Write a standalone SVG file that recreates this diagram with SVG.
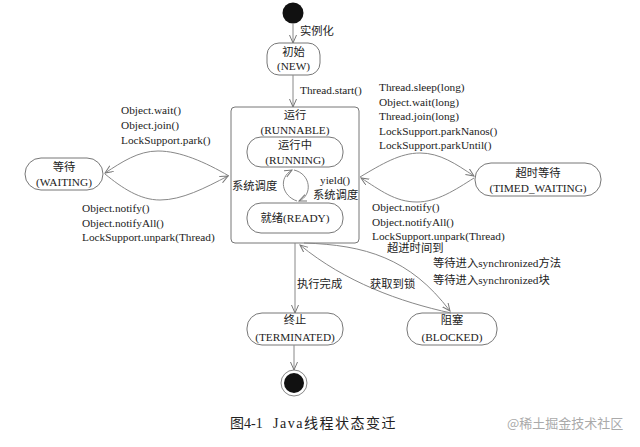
<svg xmlns="http://www.w3.org/2000/svg" width="640" height="447" viewBox="0 0 640 447">
<style>
.t{font-family:"Liberation Serif","Noto Sans CJK SC",serif;font-size:11.3px;fill:#222}
.c{text-anchor:middle}
.box{fill:#fff;stroke:#777;stroke-width:1}
.ln{fill:none;stroke:#888;stroke-width:1}
.cap{font-family:"Liberation Serif","Noto Sans CJK SC",serif;font-size:14px;fill:#222}
</style>
<defs>
<marker id="ah" markerUnits="userSpaceOnUse" markerWidth="10" markerHeight="8" refX="8" refY="3.5" orient="auto">
<path d="M0,0 L8,3.5 L0,7" fill="none" stroke="#777" stroke-width="1"/>
</marker>
</defs>
<rect width="640" height="447" fill="#fff"/>

<g id="start"><circle cx="293" cy="13" r="10.5" fill="#111"/></g>

<g id="new">
<rect class="box" x="267" y="43" width="53" height="32" rx="12"/>
<text class="t c" x="293.5" y="56">初始</text>
<text class="t c" x="293.5" y="70">(NEW)</text>
</g>

<g id="runnable">
<rect class="box" x="231" y="107" width="128" height="136" rx="4"/>
<text class="t c" x="295" y="119">运行</text>
<text class="t c" x="295" y="134">(RUNNABLE)</text>
</g>

<g id="running">
<rect class="box" x="247" y="137" width="96" height="30" rx="14"/>
<text class="t c" x="295" y="149">运行中</text>
<text class="t c" x="295" y="164">(RUNNING)</text>
</g>

<g id="ready">
<rect class="box" x="247" y="203" width="96" height="30" rx="14"/>
<text class="t c" x="295" y="222">就绪(READY)</text>
</g>

<g id="waiting">
<rect class="box" x="25" y="158" width="78" height="32" rx="16"/>
<text class="t c" x="64" y="171">等待</text>
<text class="t c" x="64" y="186">(WAITING)</text>
</g>

<g id="timed_waiting">
<rect class="box" x="475" y="163" width="126" height="33" rx="16"/>
<text class="t c" x="538" y="177">超时等待</text>
<text class="t c" x="538" y="192">(TIMED_WAITING)</text>
</g>

<g id="terminated">
<rect class="box" x="247" y="313" width="96" height="32" rx="15"/>
<text class="t c" x="295" y="324">终止</text>
<text class="t c" x="295" y="341">(TERMINATED)</text>
</g>

<g id="blocked">
<rect class="box" x="407" y="313" width="90" height="32" rx="15"/>
<text class="t c" x="452" y="324">阻塞</text>
<text class="t c" x="452" y="341">(BLOCKED)</text>
</g>

<g id="end">
<circle cx="294" cy="383" r="13" fill="#fff" stroke="#888" stroke-width="1"/>
<circle cx="294" cy="383" r="10" fill="#111"/>
</g>

<g id="connectors">
<path class="ln" d="M293,24 L293,43" marker-end="url(#ah)"/>
<path class="ln" d="M293,75 L293,107" marker-end="url(#ah)"/>
<path class="ln" d="M297,201 C282,196 278,178 292,170" marker-end="url(#ah)"/>
<path class="ln" d="M294,170 C311,174 313,195 299,201" marker-end="url(#ah)"/>
<path class="ln" d="M229,176 C205,162 180,151 158,151 C138,151 122,162 105,173" marker-end="url(#ah)"/>
<path class="ln" d="M105,174 C122,188 140,200 160,200 C182,200 205,188 228,176" marker-end="url(#ah)"/>
<path class="ln" d="M360,177 C382,164 400,153 420,153 C440,153 456,164 474,176" marker-end="url(#ah)"/>
<path class="ln" d="M474,178 C455,190 437,202 417,202 C395,202 380,190 361,178" marker-end="url(#ah)"/>
<path class="ln" d="M295,243 L295,313" marker-end="url(#ah)"/>
<path class="ln" d="M304,243 C365,245 410,258 450,311" marker-end="url(#ah)"/>
<path class="ln" d="M451,313 C400,302 345,282 300,245" marker-end="url(#ah)"/>
<path class="ln" d="M294,345 L294,370" marker-end="url(#ah)"/>
</g>

<g id="labels">
<text class="t" x="300" y="35">实例化</text>
<text class="t" x="300" y="94">Thread.start()</text>
<text class="t" x="232" y="190">系统调度</text>
<text class="t" x="320" y="184">yield()</text>
<text class="t" x="313" y="199">系统调度</text>
<text class="t" x="121" y="114">Object.wait()</text>
<text class="t" x="121" y="129">Object.join()</text>
<text class="t" x="121" y="144">LockSupport.park()</text>
<text class="t" x="82" y="212">Object.notify()</text>
<text class="t" x="82" y="227">Object.notifyAll()</text>
<text class="t" x="82" y="241">LockSupport.unpark(Thread)</text>
<text class="t" x="379" y="91">Thread.sleep(long)</text>
<text class="t" x="379" y="106">Object.wait(long)</text>
<text class="t" x="379" y="120">Thread.join(long)</text>
<text class="t" x="379" y="135">LockSupport.parkNanos()</text>
<text class="t" x="379" y="149">LockSupport.parkUntil()</text>
<text class="t" x="372" y="211">Object.notify()</text>
<text class="t" x="372" y="226">Object.notifyAll()</text>
<text class="t" x="372" y="240">LockSupport.unpark(Thread)</text>
<text class="t" x="387" y="252">超进时间到</text>
<text class="t" x="433" y="267">等待进入synchronized方法</text>
<text class="t" x="433" y="284">等待进入synchronized块</text>
<text class="t" x="297" y="288">执行完成</text>
<text class="t" x="370" y="288">获取到锁</text>
</g>

<g id="caption">
<text class="cap" x="230" y="428">图4-1</text>
<text class="cap" x="273" y="428" style="letter-spacing:1.5px">Java线程状态变迁</text>
<text x="507" y="428" style="font-family:'Noto Sans CJK SC',sans-serif;font-size:13px;fill:#aaa">@稀土掘金技术社区</text>
</g>
</svg>
